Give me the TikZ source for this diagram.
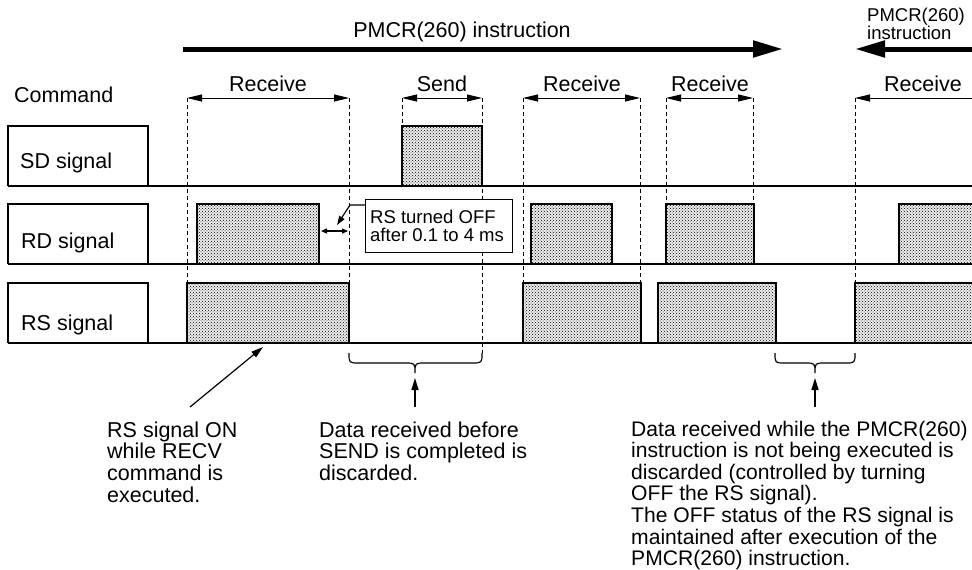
\documentclass[tikz,border=0pt]{standalone}
\usepackage{fontspec}
\setmainfont{Liberation Sans}
\usetikzlibrary{arrows.meta,patterns}
\newcommand\sigpulse[4]{%
  \fill[black!7] (#1,#4) rectangle (#2,#3);
  \fill[pattern=crosshatch dots, pattern color=black] (#1,#4) rectangle (#2,#3);
  \draw[pulse] (#1,#4) -- (#1,#3) -- (#2,#3) -- (#2,#4);}
\newcommand\mlines[1]{\begin{tabular}[t]{@{}l@{}}#1\end{tabular}}
\begin{document}
\begin{tikzpicture}[x=1pt,y=-1pt,
  big/.style={font=\fontsize{21.5}{21.2}\selectfont, inner sep=0pt},
  lbl/.style={big, anchor=base west},
  pulse/.style={line width=2.8pt, line join=miter, line cap=butt},
  baseln/.style={line width=1.2pt},
  lblbox/.style={line width=1.1pt},
  guide/.style={line width=0.9pt, dash pattern=on 4pt off 3pt},
  dimarrow/.style={line width=1pt, {Triangle[length=15pt,width=7pt]}-{Triangle[length=15pt,width=7pt]}},
  bigarrow/.style={line width=5pt},
  upar/.style={line width=1.2pt, -{Triangle[length=12pt,width=7pt]}},
  brace/.style={line width=1.2pt}]
\clip (0,0) rectangle (972,570);
\fill[white] (0,0) rectangle (972,570);

% top instruction arrows
\coordinate (ia) at (183,49);
\coordinate (ib) at (783,49);
\draw[bigarrow, -{Triangle[length=30pt,width=16pt]}] (ia) -- (ib);
\node[big, anchor=base] (pmcr) at (462,37) {PMCR(260) instruction};
\coordinate (ic) at (855,49);
\coordinate (id) at (990,49);
\draw[bigarrow, {Triangle[length=30pt,width=16pt]}-] (ic) -- (id);
\node[anchor=base west, font=\fontsize{18.5}{17}\selectfont, inner sep=0pt] (pmcr2) at (867,21) {\mlines{PMCR(260)\\instruction}};

% command row
\node[lbl] (cmd) at (14,102) {Command};
\draw[guide] (187,98) -- (187,283);
\draw[guide] (349,98) -- (349,283);
\draw[guide] (402,98) -- (402,126);
\draw[guide] (482,98) -- (482,353);
\draw[guide] (523,98) -- (523,283);
\draw[guide] (640,98) -- (640,283);
\draw[guide] (666,98) -- (666,204);
\draw[guide] (753,98) -- (753,204);
\draw[guide] (855,98) -- (855,283);

\coordinate (r1a) at (187,98); \coordinate (r1b) at (349,98);
\coordinate (s1a) at (402,98); \coordinate (s1b) at (482,98);
\coordinate (r2a) at (523,98); \coordinate (r2b) at (640,98);
\coordinate (r3a) at (666,98); \coordinate (r3b) at (753,98);
\coordinate (r4a) at (855,98); \coordinate (r4b) at (990,98);
\draw[dimarrow] (r1a) -- (r1b);
\draw[dimarrow] (s1a) -- (s1b);
\draw[dimarrow] (r2a) -- (r2b);
\draw[dimarrow] (r3a) -- (r3b);
\draw[line width=1pt, {Triangle[length=15pt,width=7pt]}-] (r4a) -- (r4b);
\node[big, anchor=base] (rcv1) at (268,91) {Receive};
\node[big, anchor=base] (snd) at (442,91) {Send};
\node[big, anchor=base] (rcv2) at (582,91) {Receive};
\node[big, anchor=base] (rcv3) at (710,91) {Receive};
\node[lbl] (rcv4) at (884,91) {Receive};

% SD row
\draw[lblbox] (8,186) -- (8,126) -- (148,126) -- (148,186);
\node[lbl] (sdl) at (20,168) {SD signal};
\sigpulse{402}{482}{126}{186}
\draw[baseln] (8,186) -- (980,186);

% RD row
\draw[lblbox] (8,264) -- (8,204) -- (148,204) -- (148,264);
\node[lbl] (rdl) at (21,248) {RD signal};
\sigpulse{197}{319}{204}{264}
\sigpulse{531}{612}{204}{264}
\sigpulse{666}{754}{204}{264}
\sigpulse{899}{990}{204}{264}
\draw[baseln] (8,264) -- (980,264);

% RS row
\draw[lblbox] (8,343) -- (8,283) -- (148,283) -- (148,343);
\node[lbl] (rsl) at (21,330) {RS signal};
\sigpulse{187}{349}{283}{343}
\sigpulse{523}{641}{283}{343}
\sigpulse{658}{776}{283}{343}
\sigpulse{855}{990}{283}{343}
\draw[baseln] (8,343) -- (980,343);

% callout
\node[draw, fill=white, line width=1.2pt, anchor=north west, minimum width=147pt, minimum height=53pt, inner sep=0pt] (cbox) at (365,199) {};
\node[anchor=base west, font=\fontsize{18.5}{18.4}\selectfont, inner sep=0pt] (ctext) at (370,223) {\mlines{RS turned OFF\\after 0.1 to 4 ms}};
\coordinate (cbend) at (350,205);
\coordinate (ctip) at (337,225);
\draw[line width=1.2pt, -{Triangle[length=9pt,width=6pt]}] ([yshift=-6pt]cbox.north west) -- (cbend) -- (ctip);
\coordinate (ga) at (321,231);
\coordinate (gb) at (348,231);
\draw[line width=1.2pt, {Triangle[length=6pt,width=5pt]}-{Triangle[length=6pt,width=5pt]}] (ga) -- (gb);

% braces
\draw[brace] (349,353) .. controls (349,363) and (349,363) .. (359,363) -- (405,363)
  .. controls (415,363) and (415,363) .. (415,373)
  .. controls (415,363) and (415,363) .. (425,363) -- (472,363)
  .. controls (482,363) and (482,363) .. (482,353);
\coordinate (b1) at (415,378);
\draw[brace] (775,353) .. controls (775,363) and (775,363) .. (785,363) -- (805,363)
  .. controls (815,363) and (815,363) .. (815,373)
  .. controls (815,363) and (815,363) .. (825,363) -- (845,363)
  .. controls (855,363) and (855,363) .. (855,353);
\coordinate (b2) at (815,378);

% annotations
\node[lbl] (t1) at (107,437) {\mlines{RS signal ON\\while RECV\\command is\\executed.}};
\node[lbl] (t2) at (319,437) {\mlines{Data received before\\SEND is completed is\\discarded.}};
\node[anchor=base west, inner sep=0pt, font=\fontsize{21.1}{21.1}\selectfont] (t3) at (631,436) {\mlines{Data received while the PMCR(260)\\instruction is not being executed is\\discarded (controlled by turning\\OFF the RS signal).\\The OFF status of the RS signal is\\maintained after execution of the\\PMCR(260) instruction.}};
\coordinate (a1s) at (190,407);
\coordinate (a1e) at (263,347);
\draw[upar] (a1s) -- (a1e);
\coordinate (a2s) at (415,407);
\draw[upar] (a2s) -- (b1);
\coordinate (a3s) at (815,407);
\draw[upar] (a3s) -- (b2);
\end{tikzpicture}
\end{document}
